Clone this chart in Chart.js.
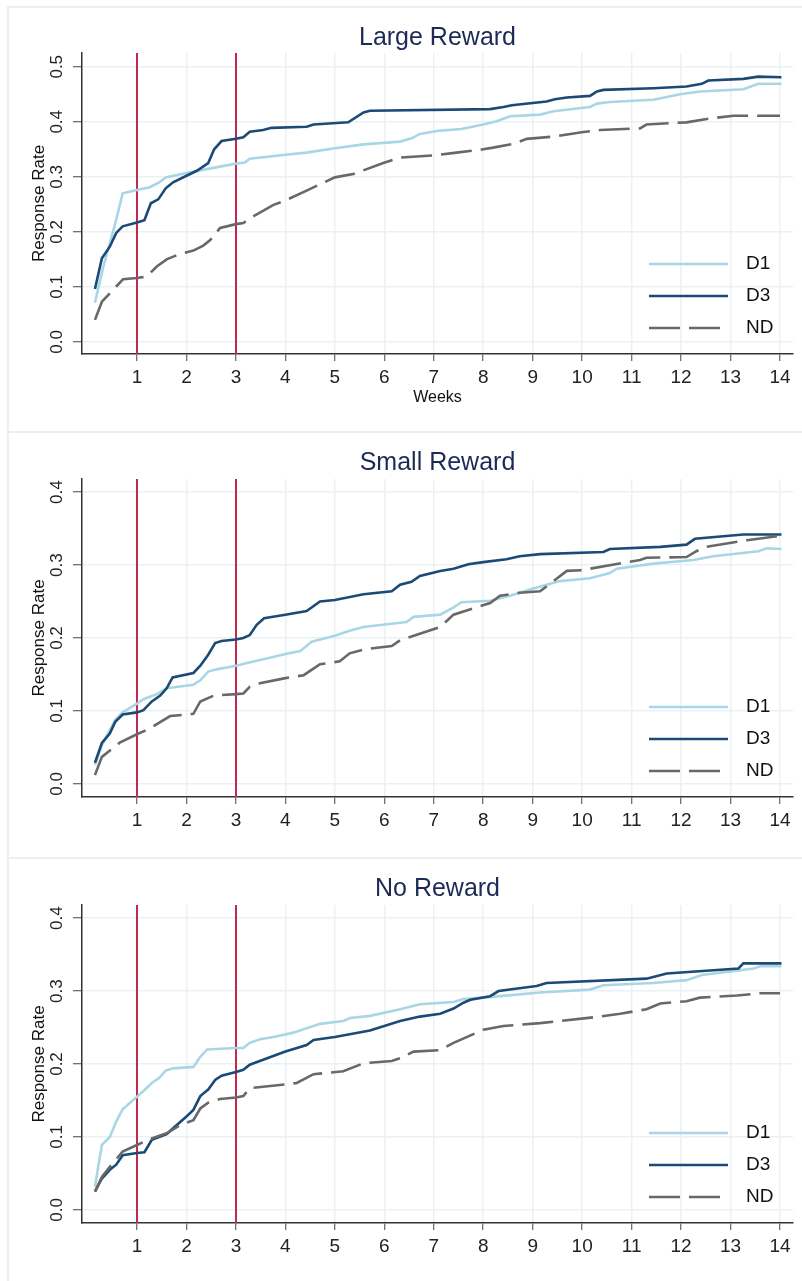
<!DOCTYPE html>
<html lang="en">
<head>
  <meta charset="UTF-8">
  <title>Response Rate by Reward</title>
  <script src="https://cdn.jsdelivr.net/npm/chart.js"></script>
  <style>
  body {
    margin: 0;
    background: #fff;
    width: 802px;
    height: 1281px;
    overflow: hidden;
    position: relative;
  }
  .panel {
    position: absolute;
    left: 7px;
    width: 800px;
    border-top: 2px solid #e9f0f2;
    border-left: 2px solid #e9f0f2;
  }
  canvas {
    position: absolute;
    left: 7px;
  }
  </style>
</head>
<body>
  <div class="panel" style="top: 6px; height: 425px;"></div>
  <div class="panel" style="top: 431px; height: 426px;"></div>
  <div class="panel" style="top: 857px; height: 430px;"></div>
  <canvas id="large" width="795" height="425" style="top: 7px;"></canvas>
  <canvas id="small" width="795" height="426" style="top: 432px;"></canvas>
  <canvas id="none" width="795" height="423" style="top: 858px;"></canvas>

  <script>
    // ticks
    var weekTicks = [1, 2, 3, 4, 5, 6, 7, 8, 9, 10, 11, 12, 13, 14];
    var rateTicksLarge = [0, 0.1, 0.2, 0.3, 0.4, 0.5];
    var rateTicks = [0, 0.1, 0.2, 0.3, 0.4];
    var markerWeeks = [1, 3];
    var seriesNames = ['D1', 'D3', 'ND'];

    // Large reward
    var largeD1Weeks = [0.15, 0.32, 0.58, 0.71, 1.0, 1.26, 1.45, 1.58, 2.0, 2.41, 3.0, 3.18, 3.28, 4.0, 4.43, 5.0, 5.58, 6.32, 6.55, 6.72, 7.13, 7.56, 8.0, 8.27, 8.54, 9.15, 9.42, 10.16, 10.3, 10.56, 11.44, 11.98, 12.38, 13.26, 13.56, 14.03];
    var largeD1 = [0.071, 0.137, 0.222, 0.270, 0.276, 0.281, 0.290, 0.299, 0.307, 0.314, 0.324, 0.326, 0.333, 0.340, 0.344, 0.352, 0.359, 0.364, 0.370, 0.378, 0.384, 0.387, 0.395, 0.401, 0.410, 0.413, 0.419, 0.427, 0.433, 0.436, 0.440, 0.450, 0.455, 0.459, 0.469, 0.469];
    var largeD3Weeks = [0.15, 0.29, 0.45, 0.58, 0.71, 1.0, 1.15, 1.28, 1.43, 1.58, 1.73, 2.0, 2.21, 2.44, 2.56, 2.71, 3.0, 3.15, 3.28, 3.55, 3.72, 4.43, 4.57, 5.27, 5.58, 5.71, 8.14, 8.41, 8.58, 9.28, 9.45, 9.69, 10.16, 10.3, 10.43, 11.44, 12.11, 12.42, 12.55, 13.26, 13.56, 14.03];
    var largeD3 = [0.096, 0.152, 0.173, 0.198, 0.210, 0.217, 0.221, 0.252, 0.259, 0.279, 0.290, 0.302, 0.311, 0.325, 0.350, 0.365, 0.369, 0.372, 0.382, 0.385, 0.389, 0.391, 0.395, 0.399, 0.417, 0.420, 0.423, 0.427, 0.430, 0.437, 0.441, 0.444, 0.447, 0.455, 0.458, 0.461, 0.464, 0.469, 0.475, 0.478, 0.482, 0.481];
    var largeNDWeeks = [0.15, 0.29, 0.52, 0.72, 1.0, 1.2, 1.4, 1.6, 1.87, 2.14, 2.34, 2.48, 2.68, 3.0, 3.15, 3.35, 3.76, 4.0, 4.43, 5.0, 5.37, 5.98, 6.32, 7.0, 7.46, 8.0, 8.2, 8.61, 8.88, 9.42, 9.99, 10.36, 11.17, 11.3, 12.11, 12.58, 13.06, 14.0];
    var largeND = [0.040, 0.073, 0.095, 0.114, 0.116, 0.119, 0.137, 0.150, 0.160, 0.166, 0.175, 0.185, 0.207, 0.214, 0.216, 0.228, 0.249, 0.257, 0.275, 0.299, 0.305, 0.325, 0.335, 0.339, 0.344, 0.350, 0.353, 0.360, 0.369, 0.373, 0.381, 0.385, 0.388, 0.395, 0.399, 0.406, 0.411, 0.411];

    // Small reward
    var smallD1Weeks = [0.15, 0.29, 0.56, 0.71, 1.0, 1.13, 1.4, 1.6, 2.14, 2.28, 2.44, 2.61, 3.0, 3.25, 3.62, 4.0, 4.3, 4.53, 5.0, 5.3, 5.58, 6.32, 6.45, 6.59, 7.13, 7.4, 7.56, 8.14, 8.54, 9.01, 9.55, 10.16, 10.56, 10.7, 11.44, 12.25, 12.65, 13.56, 13.73, 14.03];
    var smallD1 = [0.026, 0.053, 0.088, 0.098, 0.110, 0.116, 0.123, 0.131, 0.136, 0.142, 0.154, 0.157, 0.162, 0.166, 0.172, 0.178, 0.182, 0.195, 0.203, 0.210, 0.215, 0.221, 0.222, 0.229, 0.232, 0.242, 0.249, 0.251, 0.258, 0.268, 0.278, 0.282, 0.289, 0.295, 0.302, 0.307, 0.312, 0.319, 0.323, 0.322];
    var smallD3Weeks = [0.15, 0.29, 0.45, 0.56, 0.71, 1.0, 1.13, 1.3, 1.47, 1.6, 1.72, 2.14, 2.28, 2.44, 2.58, 2.71, 3.0, 3.15, 3.28, 3.42, 3.57, 4.0, 4.43, 4.7, 5.0, 5.58, 6.15, 6.32, 6.55, 6.72, 7.13, 7.4, 7.7, 8.0, 8.47, 8.74, 9.15, 10.43, 10.56, 11.58, 12.11, 12.28, 13.26, 14.03];
    var smallD3 = [0.029, 0.056, 0.069, 0.085, 0.095, 0.098, 0.101, 0.113, 0.121, 0.131, 0.146, 0.152, 0.162, 0.177, 0.193, 0.196, 0.198, 0.200, 0.204, 0.218, 0.227, 0.232, 0.237, 0.250, 0.252, 0.260, 0.264, 0.273, 0.277, 0.285, 0.292, 0.295, 0.301, 0.304, 0.308, 0.312, 0.315, 0.318, 0.322, 0.325, 0.328, 0.336, 0.342, 0.342];
    var smallNDWeeks = [0.15, 0.29, 0.66, 1.0, 1.26, 1.67, 2.14, 2.28, 2.55, 3.0, 3.15, 3.28, 3.42, 4.0, 4.37, 4.7, 5.1, 5.3, 5.64, 6.15, 6.32, 7.13, 7.4, 8.14, 8.34, 8.74, 9.15, 9.42, 9.69, 9.99, 11.17, 11.3, 12.11, 12.31, 12.51, 13.33, 14.0];
    var smallND = [0.012, 0.037, 0.057, 0.068, 0.076, 0.093, 0.096, 0.113, 0.121, 0.123, 0.124, 0.133, 0.137, 0.145, 0.149, 0.164, 0.168, 0.179, 0.185, 0.189, 0.197, 0.215, 0.232, 0.248, 0.258, 0.262, 0.264, 0.278, 0.292, 0.293, 0.307, 0.310, 0.311, 0.319, 0.325, 0.334, 0.340];

    // No reward
    var noD1Weeks = [0.15, 0.29, 0.45, 0.58, 0.71, 1.0, 1.13, 1.3, 1.45, 1.58, 1.73, 2.14, 2.28, 2.42, 3.0, 3.15, 3.28, 3.49, 3.76, 4.16, 4.7, 5.17, 5.31, 5.71, 6.32, 6.72, 7.4, 7.6, 8.0, 8.34, 9.15, 10.16, 10.43, 11.44, 12.11, 12.42, 13.13, 13.47, 13.6, 14.03];
    var noD1 = [0.032, 0.089, 0.100, 0.121, 0.138, 0.155, 0.163, 0.174, 0.181, 0.191, 0.194, 0.196, 0.210, 0.220, 0.222, 0.222, 0.229, 0.234, 0.237, 0.243, 0.255, 0.259, 0.263, 0.266, 0.275, 0.282, 0.285, 0.289, 0.291, 0.293, 0.298, 0.302, 0.308, 0.311, 0.315, 0.322, 0.328, 0.331, 0.334, 0.334];
    var noD3Weeks = [0.15, 0.29, 0.45, 0.58, 0.71, 1.0, 1.15, 1.3, 1.6, 1.73, 2.0, 2.14, 2.28, 2.44, 2.58, 2.71, 3.0, 3.15, 3.28, 4.0, 4.43, 4.57, 5.0, 5.71, 6.32, 6.72, 7.13, 7.4, 7.6, 7.74, 8.14, 8.31, 9.08, 9.28, 11.3, 11.71, 13.16, 13.26, 14.03];
    var noD3 = [0.025, 0.043, 0.055, 0.062, 0.075, 0.078, 0.079, 0.096, 0.104, 0.112, 0.128, 0.137, 0.156, 0.165, 0.178, 0.184, 0.189, 0.192, 0.199, 0.217, 0.226, 0.233, 0.237, 0.246, 0.259, 0.265, 0.269, 0.276, 0.284, 0.288, 0.293, 0.300, 0.307, 0.311, 0.317, 0.324, 0.331, 0.338, 0.338];
    var noNDWeeks = [0.15, 0.29, 0.45, 0.71, 1.0, 1.26, 1.6, 1.87, 2.14, 2.28, 2.44, 2.68, 3.0, 3.15, 3.28, 4.0, 4.23, 4.57, 5.17, 5.58, 6.15, 6.32, 6.59, 7.13, 7.4, 8.0, 8.41, 9.15, 10.36, 10.77, 11.3, 11.58, 12.11, 12.38, 13.13, 13.6, 14.0];
    var noND = [0.025, 0.045, 0.059, 0.080, 0.089, 0.097, 0.105, 0.116, 0.123, 0.139, 0.147, 0.152, 0.154, 0.156, 0.167, 0.172, 0.174, 0.186, 0.190, 0.201, 0.204, 0.208, 0.217, 0.219, 0.229, 0.247, 0.252, 0.256, 0.265, 0.269, 0.275, 0.283, 0.286, 0.291, 0.294, 0.297, 0.297];

    var FONT = "'Liberation Sans', Arial, sans-serif";
    var styles = [
      { color: '#a9d6e5', dash: [], order: 2 },
      { color: '#1b4a76', dash: [], order: 1 },
      { color: '#686868', dash: [31, 9], order: 0 }
    ];

    function toPoints(xs, ys) {
      return xs.map(function(x, i) { return { x: x, y: ys[i] }; });
    }

    // draws panel title, red week markers and the in-plot legend
    function decor(title) {
      return {
        id: 'decor',
        beforeDatasetsDraw: function(chart) {
          var ctx = chart.ctx, a = chart.chartArea, xs = chart.scales.x;
          ctx.save();
          ctx.strokeStyle = '#c3284f';
          ctx.lineWidth = 2;
          markerWeeks.forEach(function(w) {
            var px = Math.round(xs.getPixelForValue(w));
            ctx.beginPath();
            ctx.moveTo(px, a.top);
            ctx.lineTo(px, a.bottom);
            ctx.stroke();
          });
          ctx.restore();
        },
        afterDraw: function(chart) {
          var ctx = chart.ctx, a = chart.chartArea;
          ctx.save();
          ctx.fillStyle = '#1c2b55';
          ctx.font = '25px ' + FONT;
          ctx.textAlign = 'center';
          ctx.textBaseline = 'middle';
          ctx.fillText(title, (a.left + a.right) / 2, 31);

          var offs = [90, 58, 26];
          chart.data.datasets.forEach(function(ds, i) {
            var y = a.bottom - offs[i];
            ctx.strokeStyle = ds.borderColor;
            ctx.lineWidth = ds.borderWidth;
            ctx.setLineDash(ds.borderDash);
            ctx.beginPath();
            ctx.moveTo(a.right - 144, y);
            ctx.lineTo(a.right - (ds.borderDash.length ? 71 : 65), y);
            ctx.stroke();
            ctx.setLineDash([]);
            ctx.fillStyle = '#111';
            ctx.font = '19px ' + FONT;
            ctx.textAlign = 'left';
            ctx.fillText(ds.label, a.right - 47, y);
          });
          ctx.restore();
        }
      };
    }

    function makePanel(id, title, series, yTicks, yMin, yMax, topPad, xAxisHeight, showWeeks) {
      var datasets = series.map(function(s, i) {
        return {
          label: seriesNames[i],
          data: toPoints(s[0], s[1]),
          borderColor: styles[i].color,
          borderWidth: 2.6,
          borderDash: styles[i].dash,
          order: styles[i].order,
          pointRadius: 0,
          tension: 0,
          fill: false
        };
      });
      return new Chart(id, {
        type: 'line',
        data: { datasets: datasets },
        plugins: [decor(title)],
        options: {
          responsive: false,
          animation: false,
          layout: { padding: { top: topPad, right: 9, left: 0, bottom: 0 } },
          plugins: { legend: { display: false }, tooltip: { enabled: false } },
          scales: {
            x: {
              type: 'linear',
              min: -0.112,
              max: 14.263,
              afterBuildTicks: function(scale) {
                scale.ticks = weekTicks.map(function(v) { return { value: v }; });
              },
              afterFit: function(scale) { scale.height = xAxisHeight; },
              grid: { color: '#eaf1f3', lineWidth: 1.5, tickColor: '#444', tickWidth: 1, tickLength: 7 },
              border: { color: '#333', width: 1.5 },
              ticks: {
                color: '#222',
                font: { family: FONT, size: 19 },
                padding: 5,
                maxRotation: 0,
                autoSkip: false
              },
              title: {
                display: showWeeks,
                text: 'Weeks',
                color: '#111',
                font: { family: FONT, size: 16 },
                padding: { top: 0, bottom: 25 }
              }
            },
            y: {
              type: 'linear',
              min: yMin,
              max: yMax,
              afterBuildTicks: function(scale) {
                scale.ticks = yTicks.map(function(v) { return { value: v }; });
              },
              afterFit: function(scale) { scale.width = 75; },
              grid: { color: '#eaf1f3', lineWidth: 1.5, tickColor: '#444', tickWidth: 1, tickLength: 9 },
              border: { color: '#333', width: 1.5 },
              ticks: {
                color: '#222',
                font: { family: FONT, size: 17 },
                padding: 4,
                minRotation: 90,
                maxRotation: 90,
                crossAlign: 'center',
                callback: function(v) { return v.toFixed(1); }
              },
              title: {
                display: true,
                text: 'Response Rate',
                color: '#111',
                font: { family: FONT, size: 17 },
                padding: { top: 22, bottom: 0 }
              }
            }
          }
        }
      });
    }

    makePanel('large', 'Large Reward',
      [[largeD1Weeks, largeD1], [largeD3Weeks, largeD3], [largeNDWeeks, largeND]],
      rateTicksLarge, -0.022, 0.525, 46, 78, true);

    makePanel('small', 'Small Reward',
      [[smallD1Weeks, smallD1], [smallD3Weeks, smallD3], [smallNDWeeks, smallND]],
      rateTicks, -0.018, 0.418, 47, 61, false);

    makePanel('none', 'No Reward',
      [[noD1Weeks, noD1], [noD3Weeks, noD3], [noNDWeeks, noND]],
      rateTicks, -0.018, 0.418, 47, 58, false);
  </script>
</body>
</html>
